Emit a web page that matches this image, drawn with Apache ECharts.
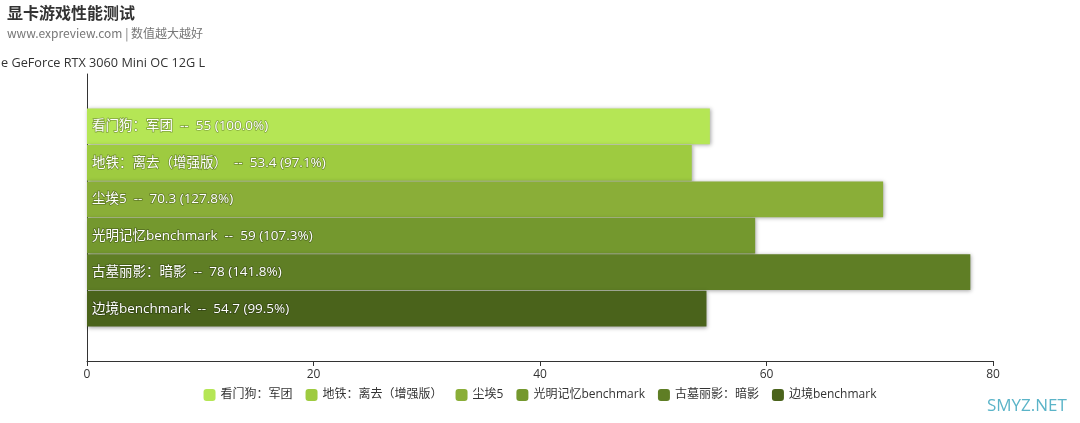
<!DOCTYPE html>
<html>
<head>
<meta charset="utf-8">
<script src="https://cdn.jsdelivr.net/npm/echarts@6/dist/echarts.min.js"></script>
<style>
html,body{margin:0;padding:0;background:#fff;}
#chart{width:1080px;height:423px;}
</style>
</head>
<body>
<div id="chart"></div>
<script>
var categories = ['e GeForce RTX 3060 Mini OC 12G L'];
var seriesNames = ['看门狗：军团', '地铁：离去（增强版）', '尘埃5', '光明记忆benchmark', '古墓丽影：暗影', '边境benchmark'];
var seriesValues = [55, 53.4, 70.3, 59, 78, 54.7];
var seriesColors = ['#b5e655', '#9ecb40', '#8aae38', '#74982e', '#5f7e25', '#4a631b'];
var xTicks = [0, 20, 40, 60, 80];

var FONT = '"Open Sans", "Noto Sans CJK SC", sans-serif';
var CJK = '"Noto Sans CJK SC", "Noto Sans", sans-serif';
var base = seriesValues[0];

var series = seriesNames.map(function (name, i) {
  var pct = (seriesValues[i] / base * 100).toFixed(1) + '%';
  return {
    name: name,
    type: 'bar',
    data: [seriesValues[i]],
    barCategoryGap: '24%',
    barGap: '2%',
    itemStyle: {
      color: seriesColors[i],
      shadowColor: 'rgba(0,0,0,0.35)',
      shadowBlur: 4,
      shadowOffsetX: 1,
      shadowOffsetY: 1
    },
    label: {
      show: true,
      position: 'insideLeft',
      distance: 5,
      color: '#fff',
      fontSize: 13.5,
      fontFamily: FONT,
      textBorderColor: 'rgba(0,0,0,0.3)',
      textBorderWidth: 1.5,
      formatter: function () { return name + '  --  ' + seriesValues[i] + ' (' + pct + ')'; }
    }
  };
});

var chart = echarts.init(document.getElementById('chart'));
chart.setOption({
  animation: false,
  color: seriesColors,
  textStyle: { fontFamily: FONT },
  title: [
    { text: '显卡游戏性能测试', subtext: 'www.expreview.com | 数值越大越好', left: 2, top: 0,
      textStyle: { fontSize: 16, fontWeight: 'bold', color: '#333', fontFamily: CJK },
      subtextStyle: { fontSize: 12, color: '#777', fontFamily: CJK }, itemGap: 6 },
    { text: categories[0], left: -4, top: 52,
      textStyle: { fontSize: 12.7, fontWeight: 'normal', color: '#333', fontFamily: FONT } },
    { text: 'SMYZ.NET', left: 982, top: 393,
      textStyle: { fontSize: 17, fontWeight: 'normal', color: '#5bb4c8', fontFamily: FONT } }
  ],
  legend: {
    bottom: 17,
    left: 'center',
    itemWidth: 12,
    itemHeight: 12,
    itemGap: 13,
    icon: 'roundRect',
    textStyle: { fontSize: 12, color: '#333', fontFamily: FONT },
    data: seriesNames
  },
  grid: { left: 87, right: 87, top: 74, bottom: 62, containLabel: false },
  xAxis: {
    type: 'value',
    min: xTicks[0],
    max: xTicks[xTicks.length - 1],
    interval: 20,
    axisLine: { show: true, lineStyle: { color: '#333' } },
    axisTick: { show: true, lineStyle: { color: '#333' } },
    axisLabel: { color: '#333', fontSize: 12, fontFamily: FONT },
    splitLine: { show: false }
  },
  yAxis: {
    type: 'category',
    data: categories,
    inverse: true,
    axisLine: { show: true, lineStyle: { color: '#333' } },
    axisTick: { show: false },
    axisLabel: { show: false }
  },
  series: series
});
</script>
</body>
</html>
